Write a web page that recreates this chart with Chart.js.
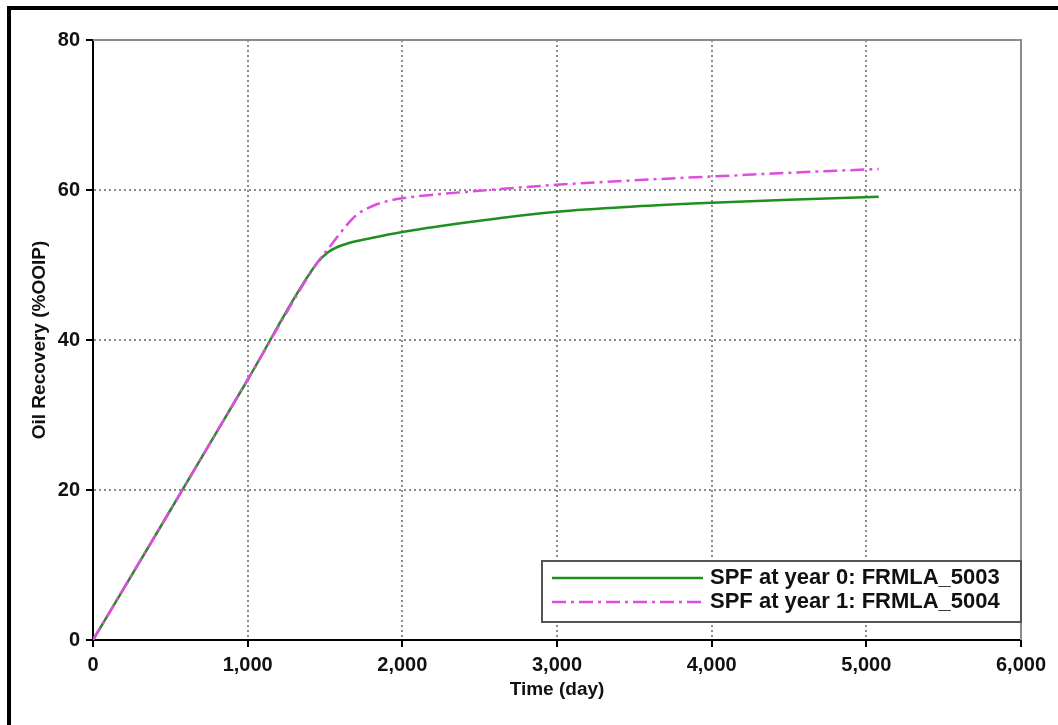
<!DOCTYPE html>
<html>
<head>
<meta charset="utf-8">
<script src="https://cdn.jsdelivr.net/npm/chart.js@4/dist/chart.umd.min.js"></script>
<style>
  html, body { margin: 0; padding: 0; background: #fff; }
  #wrap { position: relative; width: 1058px; height: 725px; }
  #wrap .edgeL { position: absolute; left: 7px; top: 6px; width: 4px; height: 719px; background: #000; }
  #wrap .edgeT { position: absolute; left: 7px; top: 6px; width: 1051px; height: 4px; background: #000; }
</style>
</head>
<body>
<div id="wrap">
  <canvas id="recoveryChart" width="1058" height="725"></canvas>
  <div class="edgeL"></div>
  <div class="edgeT"></div>
</div>
<script>
// values
const seriesNames = ['SPF at year 0: FRMLA_5003', 'SPF at year 1: FRMLA_5004'];

const daysYear0 = [0, 500, 1000, 1450, 1520, 1580, 1650, 1800, 2000, 2500, 3000, 3500, 4000, 4500, 5080];
const recYear0  = [0, 17.3, 34.7, 50.3, 51.7, 52.4, 52.9, 53.6, 54.4, 55.9, 57.1, 57.8, 58.3, 58.7, 59.1];

const daysYear1 = [0, 500, 1000, 1450, 1530, 1600, 1700, 1800, 1900, 2000, 2500, 3000, 3500, 4000, 4500, 5080];
const recYear1  = [0, 17.3, 34.7, 50.3, 52.4, 54.3, 56.6, 57.8, 58.5, 58.9, 59.9, 60.7, 61.3, 61.8, 62.3, 62.8];

const xTicks = [0, 1000, 2000, 3000, 4000, 5000, 6000];
const yTicks = [0, 20, 40, 60, 80];

const colorYear0 = '#1f901f';
const colorYear1 = '#e04ce0';
const dashYear1 = [14, 5, 3, 5];

function toPoints(xs, ys) {
    return xs.map((x, i) => ({ x: x, y: ys[i] }));
}

// frame on top/right and the boxed legend inside the plot
const framePlugin = {
    id: 'frameAndLegend',
    afterDraw(chart) {
        const { ctx, chartArea: a } = chart;
        ctx.save();
        ctx.strokeStyle = '#8c8c8c';
        ctx.lineWidth = 2;
        ctx.beginPath();
        ctx.moveTo(a.left, a.top);
        ctx.lineTo(a.right, a.top);
        ctx.lineTo(a.right, a.bottom);
        ctx.stroke();

        // legend box
        const bx = a.left + 449, by = a.bottom - 79, bw = a.right - bx, bh = 61;
        ctx.fillStyle = '#fff';
        ctx.fillRect(bx, by, bw, bh);
        ctx.strokeStyle = '#555';
        ctx.lineWidth = 2;
        ctx.strokeRect(bx, by, bw, bh);

        const rows = [
            { name: seriesNames[0], color: colorYear0, dash: [] },
            { name: seriesNames[1], color: colorYear1, dash: dashYear1 }
        ];
        ctx.font = 'bold 22px "Liberation Sans", Arial, sans-serif';
        ctx.textBaseline = 'middle';
        rows.forEach((r, i) => {
            const yy = by + 17 + i * 24;
            ctx.strokeStyle = r.color;
            ctx.lineWidth = 2.5;
            ctx.setLineDash(r.dash);
            ctx.beginPath();
            ctx.moveTo(bx + 10, yy);
            ctx.lineTo(bx + 161, yy);
            ctx.stroke();
            ctx.setLineDash([]);
            ctx.fillStyle = '#111';
            ctx.fillText(r.name, bx + 168, yy);
        });
        ctx.restore();
    }
};

const ctx = document.getElementById('recoveryChart');

new Chart(ctx, {
    type: 'line',
    data: {
        datasets: [
            {
                label: seriesNames[1],
                data: toPoints(daysYear1, recYear1),
                borderColor: colorYear1,
                borderWidth: 2.5,
                borderDash: dashYear1,
                pointRadius: 0,
                cubicInterpolationMode: 'monotone',
                fill: false
            },
            {
                label: seriesNames[0],
                data: toPoints(daysYear0, recYear0),
                borderColor: colorYear0,
                borderWidth: 2.5,
                pointRadius: 0,
                cubicInterpolationMode: 'monotone',
                fill: false
            }
        ]
    },
    options: {
        responsive: false,
        animation: false,
        layout: { padding: { left: 0, top: 40, right: 37, bottom: 0 } },
        plugins: {
            legend: { display: false },
            tooltip: { enabled: false }
        },
        scales: {
            x: {
                type: 'linear',
                min: 0,
                max: 6000,
                afterBuildTicks: s => { s.ticks = xTicks.map(v => ({ value: v })); },
                afterFit: s => { s.height = 85; },
                ticks: {
                    color: '#111',
                    padding: 6,
                    maxRotation: 0,
                    font: { family: '"Liberation Sans", Arial, sans-serif', size: 20, weight: 'bold' },
                    callback: v => v.toLocaleString('en-US')
                },
                grid: {
                    color: c => (c.index === 0 || c.index === xTicks.length - 1) ? 'rgba(0,0,0,0)' : '#8c8c8c',
                    lineWidth: 2,
                    tickColor: '#000',
                    tickLength: 7,
                    tickWidth: 2
                },
                border: { color: '#000', width: 2, dash: [2, 3] },
                title: {
                    display: true,
                    text: 'Time (day)',
                    color: '#111',
                    padding: { top: 0, bottom: 24 },
                    font: { family: '"Liberation Sans", Arial, sans-serif', size: 19, weight: 'bold' }
                }
            },
            y: {
                min: 0,
                max: 80,
                afterBuildTicks: s => { s.ticks = yTicks.map(v => ({ value: v })); },
                afterFit: s => { s.width = 93; },
                ticks: {
                    color: '#111',
                    padding: 6,
                    font: { family: '"Liberation Sans", Arial, sans-serif', size: 20, weight: 'bold' }
                },
                grid: {
                    color: c => (c.index === 0 || c.index === yTicks.length - 1) ? 'rgba(0,0,0,0)' : '#8c8c8c',
                    lineWidth: 2,
                    tickColor: '#000',
                    tickLength: 7,
                    tickWidth: 2
                },
                border: { color: '#000', width: 2, dash: [2, 3] },
                title: {
                    display: true,
                    text: 'Oil Recovery (%OOIP)',
                    color: '#111',
                    padding: { top: 28, bottom: 0 },
                    font: { family: '"Liberation Sans", Arial, sans-serif', size: 19, weight: 'bold' }
                }
            }
        }
    },
    plugins: [framePlugin]
});
</script>
</body>
</html>
